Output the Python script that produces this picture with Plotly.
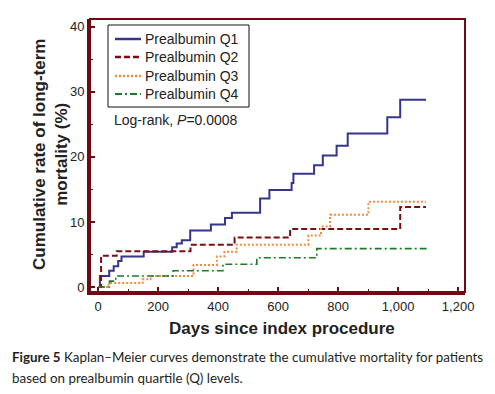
import plotly.graph_objects as go

# Data (days since index procedure, cumulative mortality %)
q1_days = [0, 6, 37, 52, 67, 78, 152, 247, 262, 279, 307, 376, 423, 446, 540, 571, 645, 651, 720, 749, 795, 832, 964, 1007, 1093]
q1_vals = [0, 1.7, 2.5, 3.2, 4.0, 4.7, 5.4, 6.1, 6.7, 7.2, 8.7, 9.6, 10.6, 11.4, 13.6, 14.9, 16.0, 17.4, 18.7, 20.2, 21.7, 23.6, 26.1, 28.8, 28.8]

q2_days = [0, 10, 62, 308, 455, 640, 1007, 1093]
q2_vals = [0, 4.8, 5.5, 6.5, 7.6, 8.9, 12.3, 12.3]

q3_days = [0, 35, 148, 175, 318, 396, 421, 462, 701, 743, 773, 901, 1093]
q3_vals = [0, 0.6, 1.2, 1.7, 3.4, 4.7, 5.4, 6.5, 7.9, 9.3, 11.1, 13.1, 13.1]

q4_days = [0, 38, 59, 250, 416, 529, 729, 1095]
q4_vals = [0, 0.9, 1.7, 2.5, 3.5, 4.5, 5.9, 5.9]

series_names = ["Prealbumin Q1", "Prealbumin Q2", "Prealbumin Q3", "Prealbumin Q4"]
x_tick_vals = [0, 200, 400, 600, 800, 1000, 1200]
y_tick_vals = [0, 10, 20, 30, 40]

MAROON = "#6E0A14"
FONT = "Liberation Sans, Arial, sans-serif"

W, H = 495, 394
ML, MR, MT, MB = 90, 30, 19, 102
PW, PH = W - ML - MR, H - MT - MB


def px(x):
    return (x - ML) / PW


def py(y):
    return (H - MB - y) / PH


styles = [
    dict(color="#35358C", dash="solid", width=2),
    dict(color="#7A0E14", dash="6px,3px", width=2),
    dict(color="#F08C3C", dash="2px,2px", width=2),
    dict(color="#1E7A28", dash="7px,3px,2px,3px", width=1.6),
]

fig = go.Figure()
for name, xs, ys, st in zip(series_names,
                            [q1_days, q2_days, q3_days, q4_days],
                            [q1_vals, q2_vals, q3_vals, q4_vals],
                            styles):
    fig.add_trace(go.Scatter(x=xs, y=ys, mode="lines", name=name,
                             line=dict(shape="hv", **st), showlegend=False))

fig.update_layout(
    width=W, height=H,
    margin=dict(l=ML, r=MR, t=MT, b=MB),
    paper_bgcolor="white", plot_bgcolor="white",
    font=dict(family=FONT, size=13, color="#222"),
    showlegend=False,
    xaxis=dict(range=[-27, 1223], tickvals=x_tick_vals, tickformat=",d",
               ticks="inside", ticklen=5, tickwidth=2, tickcolor=MAROON,
               minor=dict(dtick=100, ticks="inside", ticklen=3, tickwidth=1, tickcolor=MAROON),
               showline=True, linecolor=MAROON, linewidth=3,
               showgrid=False, zeroline=False,
               tickfont=dict(family=FONT, size=13, color="#222")),
    yaxis=dict(range=[-0.77, 41.2], tickvals=y_tick_vals,
               ticks="inside", ticklen=5, tickwidth=2, tickcolor=MAROON,
               minor=dict(dtick=5, ticks="inside", ticklen=3, tickwidth=1, tickcolor=MAROON),
               showline=True, linecolor=MAROON, linewidth=3,
               showgrid=False, zeroline=False,
               tickfont=dict(family=FONT, size=13, color="#222")),
)

# top/right frame
fig.add_shape(type="rect", xref="paper", yref="paper", x0=0, y0=0, x1=1, y1=1,
              line=dict(color=MAROON, width=2), layer="above")

# legend (drawn manually to match the compact spacing)
fig.add_shape(type="rect", xref="paper", yref="paper",
              x0=px(108), x1=px(249), y0=py(107), y1=py(25),
              line=dict(color="#111", width=1), fillcolor="white", layer="below")
leg_y = [39, 57, 76, 94]
for name, st, yy in zip(series_names, styles, leg_y):
    fig.add_shape(type="line", xref="paper", yref="paper",
                  x0=px(115), x1=px(141), y0=py(yy), y1=py(yy),
                  line=dict(color=st["color"], dash=st["dash"], width=st["width"] + 0.5))
    fig.add_annotation(xref="paper", yref="paper", x=px(143), y=py(yy),
                       xanchor="left", yanchor="middle", showarrow=False,
                       text=name, font=dict(family=FONT, size=14, color="#222"))

fig.add_annotation(xref="paper", yref="paper", x=px(112), y=py(120),
                   xanchor="left", yanchor="middle", showarrow=False,
                   text="Log-rank, <i>P</i>=0.0008",
                   font=dict(family=FONT, size=14, color="#222"))

fig.add_annotation(xref="paper", yref="paper", x=px(282), y=py(328),
                   xanchor="center", yanchor="middle", showarrow=False,
                   text="<b>Days since index procedure</b>",
                   font=dict(family=FONT, size=17, color="#222"))

fig.add_annotation(xref="paper", yref="paper", x=px(50), y=py(155),
                   xanchor="center", yanchor="middle", showarrow=False,
                   textangle=-90,
                   text="<b>Cumulative rate of long-term<br>mortality (%)</b>",
                   font=dict(family=FONT, size=17, color="#222"))

CAP_FONT = "Lato, Open Sans, sans-serif"
fig.add_annotation(xref="paper", yref="paper", x=px(10), y=py(357),
                   xanchor="left", yanchor="middle", showarrow=False, align="left",
                   text="<b>Figure 5</b> Kaplan–Meier curves demonstrate the cumulative mortality for patients",
                   font=dict(family=CAP_FONT, size=13.4, color="#231F20"))
fig.add_annotation(xref="paper", yref="paper", x=px(10), y=py(378),
                   xanchor="left", yanchor="middle", showarrow=False, align="left",
                   text="based on prealbumin quartile (Q) levels.",
                   font=dict(family=CAP_FONT, size=13.4, color="#231F20"))

fig.write_html("out.html",
               config={"displayModeBar": False},
               post_script="document.body.style.margin='0px';document.body.style.padding='0px';")
